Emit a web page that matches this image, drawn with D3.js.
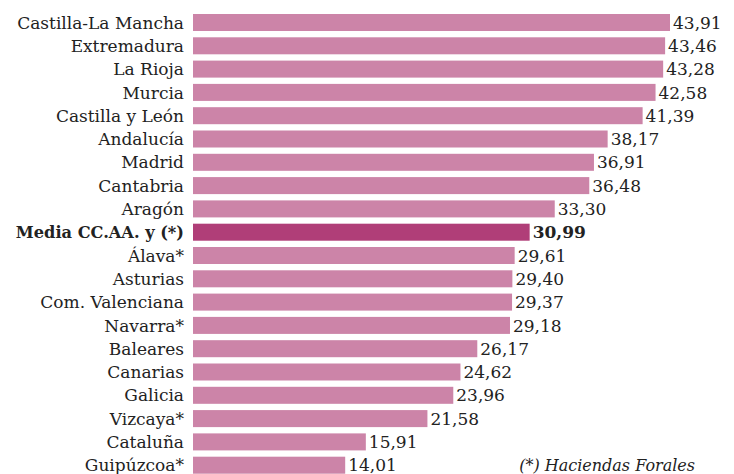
<!DOCTYPE html>
<html>
<head>
<meta charset="utf-8">
<script src="https://cdn.jsdelivr.net/npm/d3@7"></script>
<style>
  body { margin: 0; background: #fff; }
  svg text { font-family: "DejaVu Serif", serif; fill: #222; }
</style>
</head>
<body>
<div class="chart"></div>
<script>
// data
var regions = ["Castilla-La Mancha", "Extremadura", "La Rioja", "Murcia", "Castilla y León",
    "Andalucía", "Madrid", "Cantabria", "Aragón", "Media CC.AA. y (*)", "Álava*", "Asturias",
    "Com. Valenciana", "Navarra*", "Baleares", "Canarias", "Galicia", "Vizcaya*", "Cataluña",
    "Guipúzcoa*"];
var values = [43.91, 43.46, 43.28, 42.58, 41.39, 38.17, 36.91, 36.48, 33.30, 30.99, 29.61,
    29.40, 29.37, 29.18, 26.17, 24.62, 23.96, 21.58, 15.91, 14.01];
var highlight = "Media CC.AA. y (*)";
var footnote = "(*) Haciendas Forales";

var width = 734, height = 474;
var left = 193;

var data = regions.map(function(r, i) { return { name: r, value: values[i] }; });

var xScale = d3.scaleLinear().domain([0, 43.91]).range([left, 670]);
var yScale = d3.scaleBand()
    .domain(regions)
    .range([10.85, 476.85])
    .paddingInner(0.27)
    .paddingOuter(0.135);

var fmt = function(v) { return v.toFixed(2).replace(".", ","); };
var isHi = function(d) { return d.name === highlight; };

var svg = d3.select("div.chart").append("svg")
    .attr("width", width)
    .attr("height", height);

var rows = svg.selectAll(".row")
    .data(data)
    .enter().append("g")
    .attr("class", "row");

rows.append("rect")
    .attr("x", xScale(0))
    .attr("y", function(d) { return yScale(d.name); })
    .attr("width", function(d) { return xScale(d.value) - xScale(0); })
    .attr("height", yScale.bandwidth())
    .attr("fill", function(d) { return isHi(d) ? "#b03e78" : "#cc84a8"; });

rows.append("text")
    .attr("x", left - 9)
    .attr("y", function(d) { return yScale(d.name) + yScale.bandwidth() / 2; })
    .attr("dy", "0.36em")
    .style("text-anchor", "end")
    .style("font-size", function(d) { return isHi(d) ? "16.2px" : "17px"; })
    .style("font-weight", function(d) { return isHi(d) ? "bold" : "normal"; })
    .text(function(d) { return d.name; });

rows.append("text")
    .attr("x", function(d) { return xScale(d.value) + 3; })
    .attr("y", function(d) { return yScale(d.name) + yScale.bandwidth() / 2; })
    .attr("dy", "0.36em")
    .style("font-size", "17px")
    .style("font-weight", function(d) { return isHi(d) ? "bold" : "normal"; })
    .text(function(d) { return fmt(d.value); });

svg.append("text")
    .attr("x", 695)
    .attr("y", yScale(regions[regions.length - 1]) + yScale.bandwidth() / 2)
    .attr("dy", "0.36em")
    .style("text-anchor", "end")
    .style("font-size", "16px")
    .style("font-style", "italic")
    .text(footnote);
</script>
</body>
</html>
